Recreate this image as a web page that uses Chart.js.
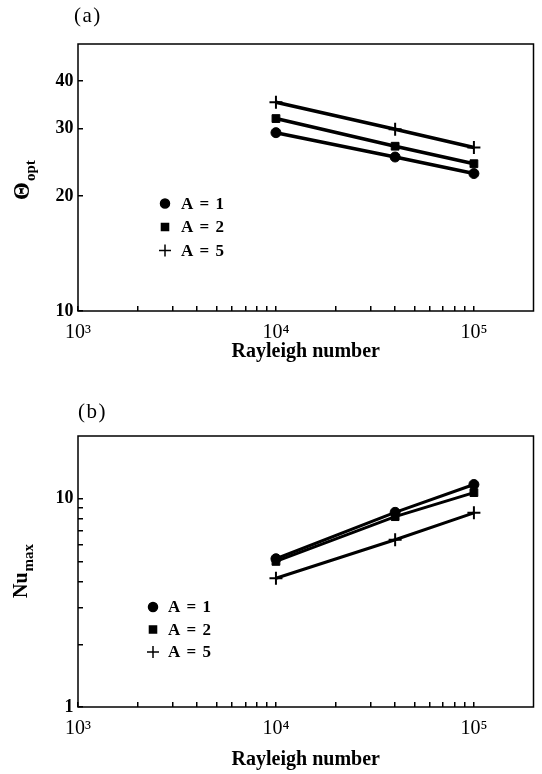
<!DOCTYPE html>
<html>
<head>
<meta charset="utf-8">
<script src="https://cdn.jsdelivr.net/npm/chart.js@4.4.1/dist/chart.umd.min.js"></script>
<style>
  html, body { margin: 0; padding: 0; background: #fff; }
  canvas { display: block; }
</style>
</head>
<body>
<canvas id="chartA" width="542" height="387"></canvas>
<canvas id="chartB" width="542" height="387"></canvas>
<script>

// Rayleigh numbers of the computed cases
const rayleigh = [1e4, 4e4, 1e5]

// (a) optimum angle
const thetaA1 = [29.3, 25.3, 22.9]
const thetaA2 = [31.9, 27.0, 24.3]
const thetaA5 = [35.2, 29.9, 26.8]

// (b) maximum Nusselt number
const nuA1 = [5.15, 8.6, 11.7]
const nuA2 = [5.0, 8.2, 10.7]
const nuA5 = [4.15, 6.35, 8.55]

const seriesLabels = ['A = 1', 'A = 2', 'A = 5']
const pointStyles = ['circle', 'rect', 'cross']
const pointSizes = [5, 5.5, 6.5]

const xTicks = [1000, 2000, 3000, 4000, 5000, 6000, 7000, 8000, 9000,
  10000, 20000, 30000, 40000, 50000, 60000, 70000, 80000, 90000, 100000]
const xTickLabels = { 1000: '10³', 10000: '10⁴', 100000: '10⁵' }

const thetaTicks = [10, 20, 30, 40]
const thetaTickLabels = { 10: '10', 20: '20', 30: '30', 40: '40' }

const nuTicks = [1, 2, 3, 4, 5, 6, 7, 8, 9, 10]
const nuTickLabels = { 1: '1', 10: '10' }

const serif = "'Liberation Serif', 'Times New Roman', serif"

// frame, panel letter, rotated y title with subscript, legend
const deco = {
  id: 'deco',
  afterDraw(chart, args, o) {
    const ctx = chart.ctx
    const a = chart.chartArea
    ctx.save()
    ctx.strokeStyle = '#000'
    ctx.fillStyle = '#000'
    ctx.lineWidth = 1.5
    ctx.strokeRect(a.left, a.top, a.right - a.left, a.bottom - a.top)

    ctx.font = '21px ' + serif
    ctx.textBaseline = 'alphabetic'
    ctx.letterSpacing = '1.5px'
    ctx.fillText(o.panel, o.panelX, o.panelY)
    ctx.letterSpacing = '0px'

    ctx.save()
    ctx.translate(o.titleX, o.titleY)
    ctx.rotate(-Math.PI / 2)
    ctx.font = 'bold ' + o.mainSize + 'px ' + serif
    ctx.fillText(o.main, 0, 0)
    let w = ctx.measureText(o.main).width
    ctx.font = 'bold ' + o.subSize + 'px ' + serif
    ctx.fillText(o.sub, w + 1, o.subShift)
    ctx.restore()

    // legend
    ctx.textBaseline = 'middle'
    ctx.font = 'bold 17px ' + serif
    ctx.letterSpacing = '1px'
    chart.data.datasets.forEach((ds, i) => {
      let y = o.legendY + i * o.legendGap
      Chart.helpers.drawPoint(ctx, {
        pointStyle: ds.pointStyle, rotation: 0,
        radius: ds.pointRadius - 0.5, borderWidth: ds.pointBorderWidth
      }, o.legendX, y)
      ctx.fillText(ds.label, o.legendTextX, y + 1)
    })
    ctx.restore()
  }
}

let makeSets = (series, lineWidth) => series.map((vals, i) => ({
  label: seriesLabels[i],
  data: rayleigh.map((r, j) => ({ x: r, y: vals[j] })),
  borderColor: '#000',
  backgroundColor: '#000',
  borderWidth: lineWidth,
  pointStyle: pointStyles[i],
  pointRadius: pointSizes[i],
  pointBorderWidth: i == 2 ? 2 : 1,
  pointBackgroundColor: '#000',
  pointBorderColor: '#000',
  tension: 0
}))

let makeOptions = (p) => ({
  responsive: false,
  animation: false,
  events: [],
  layout: { padding: { left: 0, right: 6, top: p.top, bottom: 0 } },
  plugins: { legend: { display: false }, tooltip: { enabled: false }, deco: p.deco },
  scales: {
    x: {
      type: 'logarithmic',
      min: 1000,
      max: 200000,
      afterBuildTicks: (s) => { s.ticks = xTicks.map(v => ({ value: v })) },
      afterFit: (s) => { s.height = p.xHeight },
      ticks: {
        autoSkip: false, maxRotation: 0, minRotation: 0, padding: 15, color: '#000',
        font: { family: serif, size: 20 },
        callback: (v) => xTickLabels[v] || ''
      },
      grid: { drawOnChartArea: false, tickLength: -5, color: '#000', lineWidth: 1.5 },
      border: { display: false },
      title: {
        display: true, text: 'Rayleigh number', color: '#000',
        font: { family: serif, size: 20, weight: 'bold' },
        padding: { top: 0, bottom: p.titlePad }
      }
    },
    y: {
      type: 'logarithmic',
      min: p.yMin,
      max: p.yMax,
      afterBuildTicks: (s) => { s.ticks = p.yTicks.map(v => ({ value: v })) },
      afterFit: (s) => { s.width = 78 },
      ticks: {
        autoSkip: false, padding: 9.5, color: '#000',
        font: { family: serif, size: 18, weight: 'bold' },
        callback: (v) => p.yLabels[v] || ''
      },
      grid: { drawOnChartArea: false, tickLength: -5, color: '#000', lineWidth: 1.5 },
      border: { display: false }
    }
  }
})

new Chart(document.getElementById('chartA'), {
  type: 'line',
  data: { datasets: makeSets([thetaA1, thetaA2, thetaA5], 3.5) },
  options: makeOptions({
    top: 44, xHeight: 76, titlePad: 23,
    yMin: 10, yMax: 50, yTicks: thetaTicks, yLabels: thetaTickLabels,
    deco: {
      panel: '(a)', panelX: 74, panelY: 22,
      main: 'Θ', sub: 'opt', mainSize: 23, subSize: 15, subShift: 6,
      titleX: 29, titleY: 200,
      legendX: 165, legendY: 203.5, legendGap: 23.5, legendTextX: 181
    }
  }),
  plugins: [deco]
})

new Chart(document.getElementById('chartB'), {
  type: 'line',
  data: { datasets: makeSets([nuA1, nuA2, nuA5], 3) },
  options: makeOptions({
    top: 49, xHeight: 67, titlePad: 2,
    yMin: 1, yMax: 20, yTicks: nuTicks, yLabels: nuTickLabels,
    deco: {
      panel: '(b)', panelX: 78, panelY: 31,
      main: 'Nu', sub: 'max', mainSize: 20, subSize: 15, subShift: 6,
      titleX: 27, titleY: 211,
      legendX: 153, legendY: 220, legendGap: 22.5, legendTextX: 168
    }
  }),
  plugins: [deco]
})

</script>
</body>
</html>
